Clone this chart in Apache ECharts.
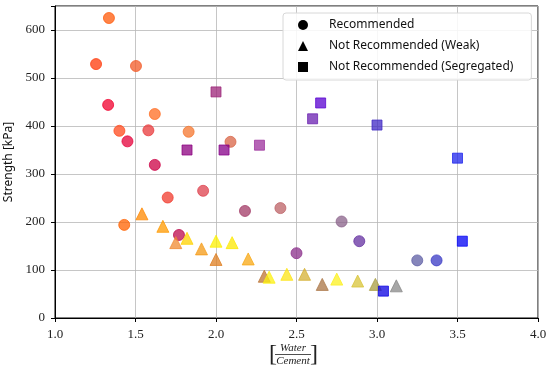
<!DOCTYPE html>
<html>
<head>
<meta charset="utf-8">
<script src="https://cdn.jsdelivr.net/npm/echarts@6/dist/echarts.min.js"></script>
<style>html,body{margin:0;padding:0;background:#fff;}#c{width:550px;height:370px;}</style>
</head>
<body>
<div id="c"></div>
<script>
// Data
const seriesNames = ['Recommended', 'Not Recommended (Weak)', 'Not Recommended (Segregated)'];
const xTicks = [1.0, 1.5, 2.0, 2.5, 3.0, 3.5, 4.0];
const yTicks = [0, 100, 200, 300, 400, 500, 600];

const recX = [1.335,1.255,1.503,1.33,1.40,1.45,1.62,1.58,1.83,1.62,2.09,1.43,1.70,1.92,1.77,2.18,2.40,2.50,2.78,2.89,3.25,3.37];
const recY = [625,529,525,444,390,368,425,391,388,319,367,194,251,265,173,223,229,135,201,160,120,120];

const weakX = [1.54,1.67,1.75,1.82,1.91,2.00,2.00,2.10,2.20,2.30,2.33,2.44,2.55,2.66,2.75,2.88,2.99,3.12];
const weakY = [217,191,157,166,144,160,122,157,123,87,85,91,91,70,81,77,70,67];

const segX = [2.00,1.82,2.05,2.27,2.65,2.60,3.00,3.50,3.53,3.04];
const segY = [471,350,350,360,448,415,402,333,160,56];

// Styles (per-point colours)
const recColors = ['#ff5a0a','#ff3a0a','#f25a25','#f0002e','#ff4a1c','#e4003a','#ff6c22','#e8383a','#f4762e','#cc0044','#d86446','#ff6200','#f03a2c','#de404c','#bc0a4c','#a23a66','#bc6266','#8a2e8a','#8a628a','#6430a0','#5e5ea4','#3838c4'];
const weakColors = ['#ff8800','#ff9a00','#f08a30','#ffd200','#f49a14','#fcf000','#de7e20','#fce800','#f8a814','#bc7434','#fcf010','#fce414','#d4b034','#aa7444','#fcf020','#d8c438','#a89c40','#888888'];
const segColors = ['#9c2478','#8c0080','#860088','#9c309c','#5800d0','#6a20b0','#4028c4','#1e24ec','#0000f4','#0a00e2'];

function pts(xs, ys, colors) {
  return xs.map((x, i) => ({value: [x, ys[i]], itemStyle: {color: colors[i], borderColor: colors[i]}}));
}

const chart = echarts.init(document.getElementById('c'), null, {renderer: 'canvas'});
const serifFont = 'Liberation Serif';
const sansFont = 'Noto Sans';

function mkSeries(name, xs, ys, colors, symbol, size) {
  return {
    name: name,
    type: 'scatter',
    symbol: symbol,
    symbolSize: size,
    data: pts(xs, ys, colors),
    itemStyle: {borderWidth: 1, opacity: 0.75},
    emphasis: {disabled: true}
  };
}

const fracFont = 'italic 11px "Liberation Serif"';
const cx = 293;

chart.setOption({
  animation: false,
  backgroundColor: '#fff',
  grid: {left: 55, right: 12, top: 6, bottom: 52, containLabel: false, outerBoundsMode: 'none', show: true, borderColor: '#000', borderWidth: 1, backgroundColor: 'transparent'},
  xAxis: {
    type: 'value', min: xTicks[0], max: xTicks[xTicks.length - 1], interval: 0.5,
    axisLine: {show: true, onZero: false, lineStyle: {color: '#000', width: 1}},
    axisTick: {show: true, length: 4, lineStyle: {color: '#000'}},
    axisLabel: {fontFamily: serifFont, fontSize: 13, color: '#222', margin: 10, formatter: v => v.toFixed(1)},
    splitLine: {show: true, lineStyle: {color: '#b8b8b8', width: 0.8}}
  },
  yAxis: {
    type: 'value', min: 0, max: 650, interval: 100,
    axisLine: {show: true, onZero: false, lineStyle: {color: '#000', width: 1}},
    axisTick: {show: true, length: 4, lineStyle: {color: '#000'}},
    axisLabel: {fontFamily: serifFont, fontSize: 13, color: '#222', margin: 10, formatter: v => (yTicks.indexOf(v) >= 0 ? String(v) : '')},
    splitLine: {show: true, lineStyle: {color: '#b8b8b8', width: 0.8}},
    name: 'Strength [kPa]', nameLocation: 'middle', nameGap: 35,
    nameTextStyle: {fontFamily: sansFont, fontSize: 12, color: '#111'}
  },
  legend: {
    orient: 'vertical', left: 283, top: 13,
    backgroundColor: 'rgba(255,255,255,0.85)', borderColor: '#d8d8d8', borderWidth: 1, borderRadius: 3,
    padding: [5, 18, 6, 15], itemGap: 7, itemWidth: 10, itemHeight: 10,
    textStyle: {fontFamily: sansFont, fontSize: 12, lineHeight: 14, color: '#111', padding: [0, 0, 0, 16]},
    data: [
      {name: seriesNames[0], icon: 'circle', itemStyle: {color: '#000', borderWidth: 0, opacity: 1}},
      {name: seriesNames[1], icon: 'triangle', itemStyle: {color: '#000', borderWidth: 0, opacity: 1}},
      {name: seriesNames[2], icon: 'rect', itemStyle: {color: '#000', borderWidth: 0, opacity: 1}}
    ]
  },
  graphic: [
    {type: 'text', x: cx, y: 348, style: {text: 'Water', font: fracFont, fill: '#222', align: 'center', verticalAlign: 'middle'}},
    {type: 'line', shape: {x1: cx - 18, y1: 354.5, x2: cx + 18, y2: 354.5}, style: {stroke: '#222', lineWidth: 0.8}},
    {type: 'text', x: cx, y: 361, style: {text: 'Cement', font: fracFont, fill: '#222', align: 'center', verticalAlign: 'middle'}},
    {type: 'text', x: cx - 20, y: 355, style: {text: '[', font: '24px "Liberation Serif"', fill: '#222', align: 'center', verticalAlign: 'middle'}},
    {type: 'text', x: cx + 21, y: 355, style: {text: ']', font: '24px "Liberation Serif"', fill: '#222', align: 'center', verticalAlign: 'middle'}}
  ],
  series: [
    mkSeries(seriesNames[0], recX, recY, recColors, 'circle', 11),
    mkSeries(seriesNames[1], weakX, weakY, weakColors, 'triangle', 12),
    mkSeries(seriesNames[2], segX, segY, segColors, 'rect', 10)
  ]
});
</script>
</body>
</html>
